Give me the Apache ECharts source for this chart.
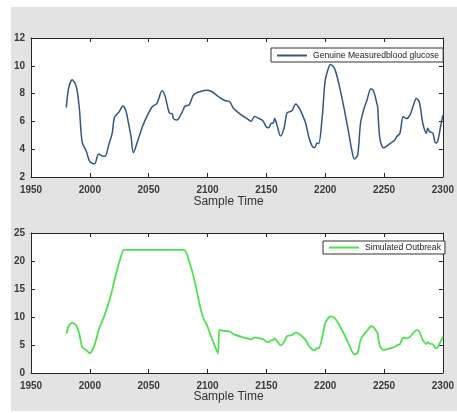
<!DOCTYPE html>
<html>
<head>
<meta charset="utf-8">
<script src="https://cdn.jsdelivr.net/npm/echarts@6/dist/echarts.min.js"></script>
<style>
html,body{margin:0;padding:0;background:#fff;}
#c{width:457px;height:413px;}
</style>
</head>
<body>
<div id="c"></div>
<script>
// Top panel: Genuine measured blood glucose
var glucoseT = [1980,1982,1985,1988.5,1991,1993.5,1997,2000,2004,2007.5,2011,2013,2016,2019,2021,2025,2028,2030.5,2033,2035,2037,2040.5,2044.6,2049,2053,2057,2061.4,2064,2067.6,2070,2071,2074,2078,2081,2084.5,2088,2092,2099,2103.5,2109,2114.7,2119,2122,2129,2134.4,2137,2140,2144,2147,2150,2152,2154,2156,2157,2159,2162,2165,2167.5,2170,2172,2175,2178,2180.7,2183.5,2186,2189,2191,2193,2194.5,2197.5,2200,2203,2204.5,2208,2211.6,2215.8,2220,2222.8,2224.8,2227.6,2230,2232.6,2235.4,2238.8,2241,2243.9,2244.7,2245,2246.6,2249.5,2252,2256.5,2259,2260.7,2263.5,2266.3,2269,2272,2274.7,2277.5,2280,2283,2286,2287,2289,2291.5,2293.8,2295.5,2298,2300];
var glucoseV = [7.0,8.4,9.0,8.5,7.0,4.5,3.85,3.1,2.95,3.65,3.5,3.5,4.3,5.15,6.3,6.7,7.1,6.8,5.8,4.9,3.75,4.55,5.6,6.45,7.05,7.3,8.2,7.8,6.6,6.55,6.2,6.1,6.6,7.1,7.2,7.9,8.1,8.25,8.15,7.8,7.5,7.4,6.95,6.45,6.15,6.0,6.35,6.2,6.05,5.6,5.55,5.85,5.9,6.2,5.75,4.95,5.5,6.6,6.7,6.8,7.25,6.95,6.45,5.85,4.9,4.2,4.1,4.45,4.4,6.35,8.95,9.9,10.1,9.8,8.7,7.05,5.15,3.85,3.3,3.6,5.85,6.8,7.5,8.35,8.2,7.3,7.0,6.35,4.7,4.1,4.2,4.5,4.65,4.9,5.15,6.35,6.2,6.45,7.1,7.65,7.4,5.85,5.15,5.5,5.25,5.15,4.45,4.55,5.6,6.45];

// Bottom panel: Simulated outbreak
var outbreakT = [1980,1982,1985,1988.5,1991,1993.5,1997,2000,2004,2008,2013,2018,2022,2026,2029,2080,2085,2089,2093,2096,2100,2104,2109,2110,2114.7,2119,2122,2129,2134.4,2137,2140,2144,2147,2150,2152,2154,2156,2157,2159,2162,2165,2167.5,2170,2172,2175,2178,2180.7,2183.5,2186,2189,2191,2193,2194.5,2197.5,2200,2203,2204.5,2208,2211.6,2215.8,2220,2222.8,2224.8,2227.6,2230,2232.6,2235.4,2238.8,2241,2243.9,2244.7,2245,2246.6,2249.5,2252,2256.5,2259,2260.7,2263.5,2266.3,2269,2272,2274.7,2277.5,2280,2283,2286,2287,2289,2291.5,2293.8,2295.5,2298,2300];
var outbreakV = [7.0,8.4,9.0,8.5,7.0,4.6,4.1,3.5,5.0,8.0,10.6,14.0,17.5,20.5,22.0,22.0,19.5,16.5,12.5,10.0,8.3,6.0,3.5,7.7,7.5,7.4,6.95,6.45,6.15,6.0,6.35,6.2,6.05,5.6,5.55,5.85,5.9,6.2,5.75,4.95,5.5,6.6,6.7,6.8,7.25,6.95,6.45,5.85,4.9,4.2,4.1,4.45,4.4,6.35,8.95,9.9,10.1,9.8,8.7,7.05,5.15,3.85,3.3,3.6,5.85,6.8,7.5,8.35,8.2,7.3,7.0,6.35,4.7,4.1,4.2,4.5,4.65,4.9,5.15,6.35,6.2,6.45,7.1,7.65,7.4,5.85,5.15,5.5,5.25,5.15,4.45,4.55,5.6,6.45];

var xTicks = [1950,2000,2050,2100,2150,2200,2250,2300];
var yTicksTop = [2,4,6,8,10,12];
var yTicksBottom = [0,5,10,15,20,25];

function pairs(t, v){ return t.map(function(x,i){ return [x, v[i]]; }); }

var labelFont = {color:'#3a3a3a', fontSize:10, fontWeight:'bold', fontFamily:'Liberation Sans, Arial, sans-serif'};
var lineStyle = {color:'#262626', width:1};

function xAx(grid, pos, show){
  return {
    type:'value', gridIndex:grid, position:pos, min:xTicks[0], max:xTicks[xTicks.length-1], interval:50,
    axisLine:{show:true, onZero:false, lineStyle:lineStyle},
    axisTick:{show:true, inside:true, length:4, lineStyle:lineStyle},
    axisLabel:Object.assign({show:show, margin:8, formatter:function(v){return String(v);}}, labelFont),
    splitLine:{show:false}
  };
}
function yAx(grid, pos, show, ticks){
  return {
    type:'value', gridIndex:grid, position:pos, min:ticks[0], max:ticks[ticks.length-1], interval:ticks[1]-ticks[0],
    axisLine:{show:true, onZero:false, lineStyle:lineStyle},
    axisTick:{show:true, inside:true, length:4, lineStyle:lineStyle},
    axisLabel:Object.assign({show:show, margin:6, formatter:function(v){return String(v);}}, labelFont),
    splitLine:{show:false}
  };
}

var legendText = {fontSize:8.6, color:'#1a1a1a', fontWeight:'normal', fontFamily:'Liberation Sans, Arial, sans-serif', padding:[0,0,0,1]};

var chart = echarts.init(document.getElementById('c'), null, {renderer:'canvas'});
chart.setOption({
  backgroundColor:'#ffffff',
  animation:false,
  graphic:[
    {type:'rect', z:-10, silent:true, shape:{x:11, y:7, width:446, height:404}, style:{fill:'#e3e3e3'}},
    {type:'text', left:'center', top:196, style:{text:'Sample Time', fontSize:12, fill:'#333', fontFamily:'Liberation Sans, Arial, sans-serif'}},
    {type:'text', left:'center', top:391, style:{text:'Sample Time', fontSize:12, fill:'#333', fontFamily:'Liberation Sans, Arial, sans-serif'}}
  ],
  grid:[
    {left:31, right:10, top:38, height:139, show:true, backgroundColor:'#ffffff', borderWidth:0},
    {left:31, right:10, top:233, height:140, show:true, backgroundColor:'#ffffff', borderWidth:0}
  ],
  xAxis:[ xAx(0,'bottom',true), xAx(0,'top',false), xAx(1,'bottom',true), xAx(1,'top',false) ],
  yAxis:[ yAx(0,'left',true,yTicksTop), yAx(0,'right',false,yTicksTop), yAx(1,'left',true,yTicksBottom), yAx(1,'right',false,yTicksBottom) ],
  legend:[
    {data:['Genuine Measuredblood glucose'], left:271, top:48, orient:'horizontal',
     padding:[3,4,2,6], itemWidth:30, itemHeight:2, itemGap:0,
     backgroundColor:'#ffffff', borderColor:'#333', borderWidth:1, borderRadius:0,
     icon:'rect', textStyle:legendText},
    {data:['Simulated Outbreak'], left:323, top:241, orient:'horizontal',
     padding:[2,4,2,6], itemWidth:30, itemHeight:2, itemGap:0,
     backgroundColor:'#ffffff', borderColor:'#333', borderWidth:1, borderRadius:0,
     icon:'rect', textStyle:legendText}
  ],
  series:[
    {name:'Genuine Measuredblood glucose', type:'line', xAxisIndex:0, yAxisIndex:0,
     data:pairs(glucoseT, glucoseV), smooth:0.3, showSymbol:false, symbol:'none',
     itemStyle:{color:'#34557f'}, lineStyle:{color:'#34557f', width:1.5}},
    {name:'Simulated Outbreak', type:'line', xAxisIndex:2, yAxisIndex:2,
     data:pairs(outbreakT, outbreakV), smooth:0.2, showSymbol:false, symbol:'none',
     itemStyle:{color:'#4ee24e'}, lineStyle:{color:'#4ee24e', width:1.8}}
  ]
});
</script>
</body>
</html>
